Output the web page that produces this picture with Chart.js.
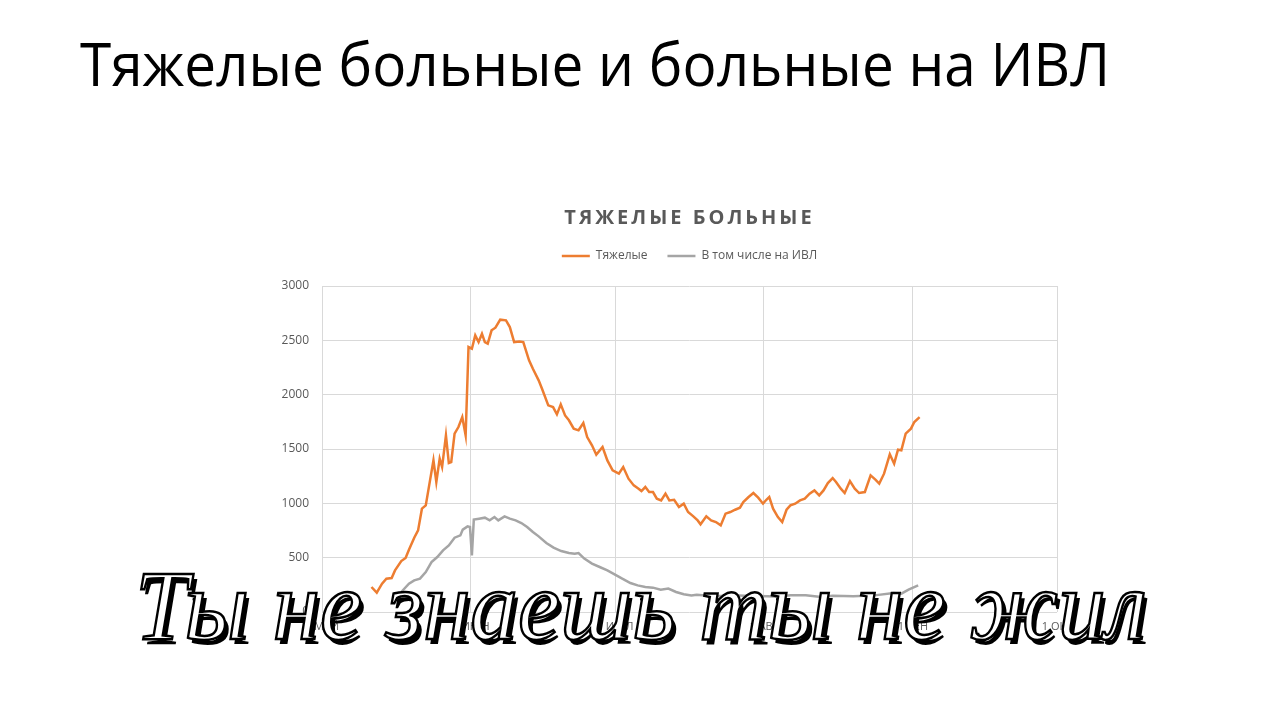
<!DOCTYPE html>
<html lang="ru">
<head>
<meta charset="UTF-8">
<title>Тяжелые больные и больные на ИВЛ</title>
<script src="https://cdn.jsdelivr.net/npm/chart.js"></script>
<style>
    html, body { margin: 0; padding: 0; background: #fff; }
    body { width: 1280px; height: 701px; position: relative; overflow: hidden; }
    #pageTitle {
        position: absolute; left: 80px; top: 33px; margin: 0;
        font: 400 60px 'Open Sans', sans-serif; line-height: 1; color: #000;
        white-space: nowrap; transform-origin: left top;
    }
    #chartBox { position: absolute; left: 0; top: 0; width: 1280px; height: 701px; }
    #caption {
        position: absolute; left: 135px; top: 556px; z-index: 2;
        font: italic 400 100px 'Liberation Serif', serif; line-height: 1;
        color: #fff; -webkit-text-stroke: 2.5px #000; text-shadow: 4px 5px 0 #000;
        white-space: nowrap; transform-origin: left top;
    }
</style>
</head>
<body>
<h1 id="pageTitle">Тяжелые больные и больные на ИВЛ</h1>
<div id="chartBox"><canvas id="chart" width="1280" height="701"></canvas></div>
<div id="caption">Ты не знаешь ты не жил</div>

<script>
// days counted from 1 May
const monthStarts = [0, 31, 61, 92, 123, 153];
const monthLabels = ['1 МАЙ', '1 ИЮН', '1 ИЮЛ', '1 АВГ', '1 СЕН', '1 ОКТ'];

// severe patients (orange)
const seriousDays = [10.3, 11.4, 12.5, 13.4, 14.5, 15.2, 16.5, 17.4, 18.1, 19.2, 20.0, 20.8, 21.6, 23.2, 23.8, 24.5,
    25.0, 25.8, 26.4, 26.9, 27.6, 28.4, 29.2, 29.9, 30.5, 31.2, 31.9, 32.6, 33.3, 33.9, 34.5, 35.3, 36.1, 37.1,
    38.3, 39.1, 40.0, 41.1, 41.9, 43.1, 43.9, 45.1, 45.8, 47.1, 48.1, 48.9, 49.7, 50.6, 51.4, 52.4, 53.4, 54.4,
    55.2, 56.2, 57.1, 58.4, 59.4, 60.5, 61.8, 62.7, 63.8, 64.9, 65.9, 66.5, 67.3, 68.1, 68.9, 69.7, 70.6, 71.5,
    72.3, 73.3, 74.3, 75.3, 76.2, 77.3, 78.2, 78.8, 80.0, 81.0, 82.0, 83.0, 84.0, 85.0, 86.0, 87.0, 87.7, 88.8,
    89.8, 90.8, 91.8, 92.5, 93.1, 93.9, 94.9, 95.8, 96.7, 97.5, 98.5, 99.5, 100.5, 101.5, 102.5, 103.5, 104.4,
    105.3, 106.3, 107.0, 108.0, 108.8, 109.9, 110.9, 111.8, 113.0, 114.2, 115.2, 116.0, 117.0, 118.2, 119.1,
    119.9, 120.6, 121.5, 122.6, 123.3, 124.4];
const seriousValues = [230, 178, 261, 307, 313, 383, 469, 497, 573, 684, 751, 951, 981, 1395, 1196, 1411,
    1334, 1625, 1371, 1380, 1641, 1702, 1794, 1625, 2438, 2423, 2546, 2484, 2561, 2484, 2469, 2592, 2616, 2690,
    2684, 2622, 2484, 2490, 2484, 2316, 2239, 2132, 2055, 1902, 1886, 1819, 1911, 1809, 1764, 1687, 1672, 1739,
    1610, 1534, 1448, 1518, 1395, 1303, 1273, 1334, 1227, 1165, 1135, 1113, 1150, 1104, 1104, 1043, 1027, 1089,
    1027, 1033, 966, 997, 920, 880, 843, 807, 880, 843, 828, 797, 905, 920, 941, 960, 1012, 1058,
    1095, 1052, 997, 1033, 1058, 951, 874, 828, 941, 981, 997, 1027, 1043, 1089, 1119, 1073, 1119,
    1187, 1233, 1196, 1135, 1095, 1205, 1135, 1095, 1104, 1257, 1218, 1181, 1273, 1451, 1365,
    1494, 1488, 1641, 1687, 1748, 1794];

// of them on ventilators (gray)
const ventDays = [16.5, 18.1, 19.2, 20.4, 21.6, 22.8, 24.0, 25.2, 26.4, 27.6, 28.8, 29.3, 30.3, 30.8, 31.2, 31.6,
    32.7, 33.9, 34.9, 35.9, 36.7, 38.0, 39.1, 40.3, 41.5, 42.7, 43.9, 45.1, 46.7, 48.2, 49.8, 51.4, 52.6, 53.4,
    54.6, 56.2, 57.8, 59.4, 60.9, 62.5, 64.2, 65.7, 67.3, 68.9, 70.5, 72.1, 73.7, 75.3, 76.9, 78.0, 80.5, 83.0,
    85.5, 88.0, 90.4, 92.8, 94.9, 97.5, 100.7, 103.9, 106.3, 108.6, 110.6, 115.0, 119.0, 120.6, 122.1, 124.1];
const ventValues = [184, 261, 291, 307, 368, 460, 506, 567, 613, 684, 705, 758, 788, 782, 521, 850,
    859, 868, 843, 874, 843, 880, 859, 843, 819, 782, 736, 696, 635, 592, 561, 543, 537, 543,
    491, 445, 414, 383, 347, 307, 267, 245, 230, 224, 205, 215, 184, 163, 153, 159, 150, 148,
    153, 150, 147, 144, 140, 153, 153, 138, 150, 147, 144, 153, 175, 169, 205, 245];

const yTicks = [0, 500, 1000, 1500, 2000, 2500, 3000];

const textGray = '#595959';
const gridGray = '#d9d9d9';

// extra room under the legend and letter spacing on the chart title
const tweaks = {
    id: 'tweaks',
    beforeInit(chart) {
        const legend = chart.legend;
        const legendFit = legend.fit;
        legend.fit = function () { legendFit.call(this); this.height += 14; };
        const title = chart.titleBlock;
        const titleDraw = title.draw;
        title.draw = function () {
            this.ctx.save();
            this.ctx.letterSpacing = '3px';
            titleDraw.call(this);
            this.ctx.restore();
        };
    }
};

const ctx = document.getElementById('chart').getContext('2d');
new Chart(ctx, {
    type: 'line',
    data: {
        datasets: [{
            label: 'Тяжелые',
            data: seriousDays.map((d, i) => ({ x: d, y: seriousValues[i] })),
            borderColor: '#ED7D31',
            backgroundColor: '#ED7D31',
            borderWidth: 2.5,
            pointRadius: 0
        }, {
            label: 'В том числе на ИВЛ',
            data: ventDays.map((d, i) => ({ x: d, y: ventValues[i] })),
            borderColor: '#A5A5A5',
            backgroundColor: '#A5A5A5',
            borderWidth: 2.5,
            pointRadius: 0
        }]
    },
    options: {
        responsive: false,
        animation: false,
        devicePixelRatio: 1,
        layout: { padding: { left: 262, right: 223, top: 206, bottom: 59 } },
        plugins: {
            title: {
                display: true,
                fullSize: false,
                text: 'ТЯЖЕЛЫЕ БОЛЬНЫЕ',
                color: textGray,
                font: { family: 'Open Sans', size: 20, weight: 'bold' },
                padding: { top: 0, bottom: 0 }
            },
            legend: {
                position: 'top',
                fullSize: false,
                labels: {
                    usePointStyle: true,
                    pointStyle: 'line',
                    pointStyleWidth: 28,
                    padding: 20,
                    color: textGray,
                    font: { family: 'Open Sans', size: 12 }
                }
            },
            tooltip: { enabled: false }
        },
        scales: {
            x: {
                type: 'linear',
                min: 0,
                max: 153,
                afterBuildTicks: s => { s.ticks = monthStarts.map(v => ({ value: v })); },
                afterFit: s => { s.height = 30; },
                grid: { color: gridGray, drawTicks: false },
                border: { display: false },
                ticks: {
                    autoSkip: false,
                    maxRotation: 0,
                    padding: 8,
                    color: textGray,
                    font: { family: 'Open Sans', size: 11 },
                    callback: v => monthLabels[monthStarts.indexOf(v)]
                }
            },
            y: {
                min: 0,
                max: 3000,
                afterBuildTicks: s => { s.ticks = yTicks.map(v => ({ value: v })); },
                afterFit: s => { s.width = 60; },
                grid: { color: gridGray, drawTicks: false },
                border: { display: false },
                ticks: {
                    padding: 13,
                    color: textGray,
                    font: { family: 'Open Sans', size: 12 },
                    callback: v => String(v)
                }
            }
        }
    },
    plugins: [tweaks]
});

function fitWidth(id, target) {
    const el = document.getElementById(id);
    const w = el.getBoundingClientRect().width;
    el.style.transform = 'scaleX(' + (target / w) + ')';
}
fitWidth('pageTitle', 1030);
fitWidth('caption', 1012);
</script>
</body>
</html>
